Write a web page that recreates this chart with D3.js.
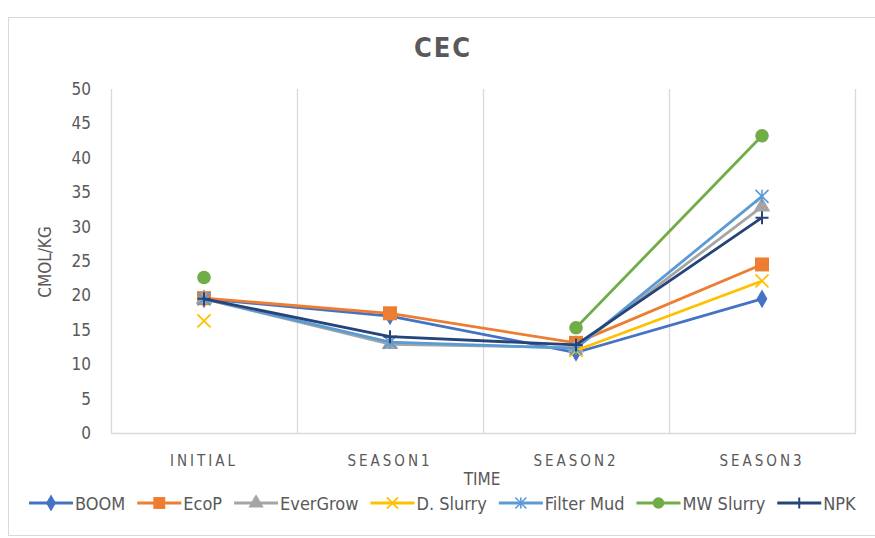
<!DOCTYPE html>
<html><head><meta charset="utf-8">
<script src="https://cdn.jsdelivr.net/npm/d3@7"></script>
<style>body{margin:0;background:#fff}</style>
</head><body>
<svg id="c" width="875" height="538"></svg>
<script>
const categories = ["INITIAL", "SEASON1", "SEASON2", "SEASON3"];
const seriesNames = ["BOOM", "EcoP", "EverGrow", "D. Slurry", "Filter Mud", "MW Slurry", "NPK"];
const boom      = [19.5, 17.0, 11.7, 19.5];
const ecoP      = [19.6, 17.4, 13.1, 24.5];
const everGrow  = [19.5, 12.9, 12.4, 32.9];
const dSlurry   = [16.3, null, 12.0, 22.1];
const filterMud = [19.5, 13.2, 12.3, 34.4];
const mwSlurry  = [22.6, null, 15.3, 43.2];
const npk       = [19.5, 14.0, 12.8, 31.3];
const yTicks = [0, 5, 10, 15, 20, 25, 30, 35, 40, 45, 50];
const colors = ["#4472C4", "#ED7D31", "#A5A5A5", "#FFC000", "#5B9BD5", "#70AD47", "#264478"];
const markers = ["diamond", "square", "triangle", "x", "star", "circle", "plus"];
const values = [boom, ecoP, everGrow, dSlurry, filterMud, mwSlurry, npk];

const svg = d3.select("#c");
const font = "'Liberation Sans Narrow','DejaVu Sans Condensed',sans-serif";
const grey = "#595959";

svg.append("rect").attr("x", 8.5).attr("y", 17.5).attr("width", 900).attr("height", 518)
  .attr("fill", "#fff").attr("stroke", "#d9d9d9");

const m = {l: 111, r: 855, t: 89, b: 433};
const x = d3.scaleBand().domain(categories).range([m.l, m.r]);
const y = d3.scaleLinear().domain([0, 50]).range([m.b, m.t]);

svg.append("text").attr("x", 443).attr("y", 57).attr("text-anchor", "middle")
  .attr("font-family", font).attr("font-weight", "bold").attr("font-size", 27)
  .attr("letter-spacing", 2).attr("fill", grey).text("CEC");

// vertical gridlines at category boundaries
const bounds = categories.map(c => x(c)).concat([m.r]);
svg.append("g").selectAll("line").data(bounds).join("line")
  .attr("x1", d => d + 0.5).attr("x2", d => d + 0.5).attr("y1", m.t).attr("y2", m.b)
  .attr("stroke", "#d9d9d9").attr("stroke-width", 1.3);
svg.append("line").attr("x1", m.l).attr("x2", m.r + 1).attr("y1", m.b + 0.5).attr("y2", m.b + 0.5)
  .attr("stroke", "#d9d9d9").attr("stroke-width", 1.5);

// y axis labels
const yAxis = d3.axisLeft(y).tickValues(yTicks).tickSize(0).tickPadding(20);
const ga = svg.append("g").attr("transform", `translate(${m.l},0)`).call(yAxis);
ga.select(".domain").remove();
ga.selectAll("text").attr("font-family", font).attr("font-size", 17).attr("fill", grey);

// x axis labels
const xAxis = d3.axisBottom(x).tickSize(0).tickPadding(22);
const gx = svg.append("g").attr("transform", `translate(0,${m.b})`).call(xAxis);
gx.select(".domain").remove();
gx.selectAll("text").attr("font-family", font).attr("font-size", 15).attr("fill", grey)
  .attr("letter-spacing", 3);

svg.append("text").attr("x", 482).attr("y", 485).attr("text-anchor", "middle")
  .attr("font-family", font).attr("font-size", 17).attr("fill", grey).text("TIME");
svg.append("text").attr("transform", "translate(51,262) rotate(-90)").attr("text-anchor", "middle")
  .attr("font-family", font).attr("font-size", 17).attr("fill", grey).text("CMOL/KG");

function drawMarker(g, type, color, cx, cy, s) {
  s = s || 1;
  if (type === "diamond") g.append("path").attr("d", d3.symbol(d3.symbolDiamond, 100 * s)()).attr("transform", `translate(${cx},${cy})`).attr("fill", color);
  else if (type === "square") g.append("rect").attr("x", cx - 7 * s).attr("y", cy - 7 * s).attr("width", 14 * s).attr("height", 14 * s).attr("fill", color);
  else if (type === "triangle") g.append("path").attr("d", d3.symbol(d3.symbolTriangle, 120 * s)()).attr("transform", `translate(${cx},${cy})`).attr("fill", color);
  else if (type === "circle") g.append("circle").attr("cx", cx).attr("cy", cy).attr("r", 6.8 * s).attr("fill", color);
  else if (type === "x") { const r = 6.5 * s; g.append("path").attr("d", `M${cx-r},${cy-r}L${cx+r},${cy+r}M${cx-r},${cy+r}L${cx+r},${cy-r}`).attr("stroke", color).attr("stroke-width", 1.8); }
  else if (type === "star") { const r = 6.5 * s; g.append("path").attr("d", `M${cx-r},${cy-r}L${cx+r},${cy+r}M${cx-r},${cy+r}L${cx+r},${cy-r}M${cx},${cy-r}L${cx},${cy+r}`).attr("stroke", color).attr("stroke-width", 1.6); }
  else if (type === "plus") { const r = 6.5 * s; g.append("path").attr("d", `M${cx-r},${cy}L${cx+r},${cy}M${cx},${cy-r}L${cx},${cy+r}`).attr("stroke", color).attr("stroke-width", 2); }
}

const line = d3.line().defined(d => d.v != null)
  .x(d => x(d.c) + x.bandwidth() / 2).y(d => y(d.v));

seriesNames.forEach((name, i) => {
  const data = categories.map((c, j) => ({c, v: values[i][j]}));
  const g = svg.append("g");
  g.append("path").datum(data).attr("d", line).attr("fill", "none")
    .attr("stroke", colors[i]).attr("stroke-width", 2.8).attr("stroke-linejoin", "round");
  data.filter(d => d.v != null).forEach(d => drawMarker(g, markers[i], colors[i], x(d.c) + x.bandwidth() / 2, y(d.v)));
});

// legend
const lg = svg.append("g");
let lx = 29;
const ly = 503;
seriesNames.forEach((name, i) => {
  lg.append("line").attr("x1", lx).attr("x2", lx + 44).attr("y1", ly).attr("y2", ly)
    .attr("stroke", colors[i]).attr("stroke-width", 2.8);
  drawMarker(lg, markers[i], colors[i], lx + 22, ly, 0.85);
  const t = lg.append("text").attr("x", lx + 46).attr("y", ly + 6.5).attr("font-family", font)
    .attr("font-size", 18).attr("fill", grey).text(name);
  lx += 46 + t.node().getComputedTextLength() + 12;
});
</script>
</body></html>
